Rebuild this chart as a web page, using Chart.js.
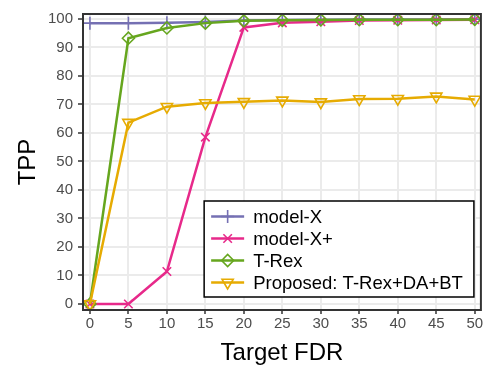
<!DOCTYPE html>
<html>
<head>
<meta charset="utf-8">
<script src="https://cdn.jsdelivr.net/npm/chart.js@4/dist/chart.umd.min.js"></script>
<style>
  html, body { margin: 0; padding: 0; background: #ffffff; }
  canvas { display: block; }
</style>
</head>
<body>
<canvas id="tpp" width="489" height="369"></canvas>
<script>
// Target FDR levels (%) on the x axis
const targetFDR = [0, 5, 10, 15, 20, 25, 30, 35, 40, 45, 50];
const xTicks = [0, 5, 10, 15, 20, 25, 30, 35, 40, 45, 50];
const yTicks = [0, 10, 20, 30, 40, 50, 60, 70, 80, 90, 100];

// True positive proportion (%) per method
const modelX    = [98.5, 98.5, 98.6, 98.9, 99.4, 99.6, 99.7, 99.8, 99.8, 99.8, 99.9];
const modelXPlus = [0, 0, 11.4, 58.5, 97.0, 98.6, 99.0, 99.4, 99.5, 99.6, 99.7];
const tRex      = [0, 93.2, 96.8, 98.5, 99.3, 99.5, 99.6, 99.7, 99.7, 99.7, 99.8];
const proposed  = [0, 63.6, 69.2, 70.5, 70.9, 71.4, 70.8, 71.9, 72.0, 72.8, 71.7];

const seriesNames = ['model-X', 'model-X+', 'T-Rex', 'Proposed: T-Rex+DA+BT'];

const FONT = "'Liberation Sans', Arial, Helvetica, sans-serif";

function series(label, values, color, style, radius, rotation, order) {
  return {
    label,
    data: values.map((v, i) => ({ x: targetFDR[i], y: v })),
    borderColor: color,
    backgroundColor: 'rgba(0,0,0,0)',
    borderWidth: 2.5,
    pointStyle: style,
    pointRadius: radius,
    pointRotation: rotation,
    pointBorderColor: color,
    pointBackgroundColor: 'rgba(0,0,0,0)',
    pointBorderWidth: 1.6,
    tension: 0,
    order
  };
}

// Legend box drawn inside the plot panel, bottom-right
const panelLegend = {
  id: 'panelLegend',
  afterDraw(chart) {
    const ctx = chart.ctx;
    const area = chart.chartArea;
    const ds = chart.data.datasets;
    ctx.save();
    ctx.font = '18.5px ' + FONT;
    let maxW = 0;
    ds.forEach(d => { maxW = Math.max(maxW, ctx.measureText(d.label).width); });
    const rowH = 22;
    const sampleW = 33;
    const padL = 7, gap = 9, padR = 11, padV = 4;
    const boxW = padL + sampleW + gap + maxW + padR;
    const boxH = padV * 2 + rowH * ds.length;
    const right = area.right - 7;
    const bottom = area.bottom - 13;
    const left = right - boxW;
    const top = bottom - boxH;
    ctx.fillStyle = '#ffffff';
    ctx.fillRect(left, top, boxW, boxH);
    ctx.strokeStyle = '#000000';
    ctx.lineWidth = 1.5;
    ctx.strokeRect(left, top, boxW, boxH);
    ds.forEach((d, i) => {
      const cy = top + padV + rowH * i + rowH / 2 + 0.5;
      const x0 = left + padL;
      ctx.strokeStyle = d.borderColor;
      ctx.lineWidth = d.borderWidth;
      ctx.beginPath();
      ctx.moveTo(x0, cy);
      ctx.lineTo(x0 + sampleW, cy);
      ctx.stroke();
      ctx.strokeStyle = d.pointBorderColor;
      ctx.fillStyle = 'rgba(0,0,0,0)';
      ctx.lineWidth = d.pointBorderWidth;
      Chart.helpers.drawPoint(ctx, {
        pointStyle: d.pointStyle,
        radius: d.pointRadius,
        rotation: d.pointRotation,
        borderWidth: d.pointBorderWidth
      }, x0 + sampleW / 2, cy);
      ctx.fillStyle = '#000000';
      ctx.textBaseline = 'middle';
      ctx.textAlign = 'left';
      ctx.fillText(d.label, x0 + sampleW + gap, cy + 1);
    });
    ctx.restore();
  }
};

// Panel frame on all four sides
const panelFrame = {
  id: 'panelFrame',
  afterDatasetsDraw(chart) {
    const { ctx, chartArea: a } = chart;
    ctx.save();
    ctx.strokeStyle = '#333333';
    ctx.lineWidth = 2;
    ctx.strokeRect(a.left, a.top, a.right - a.left, a.bottom - a.top);
    ctx.restore();
  }
};

new Chart(document.getElementById('tpp'), {
  type: 'line',
  data: {
    datasets: [
      series(seriesNames[0], modelX, '#7570b3', 'cross', 6.5, 0, 4),
      series(seriesNames[1], modelXPlus, '#e7298a', 'crossRot', 6, 0, 3),
      series(seriesNames[2], tRex, '#66a61e', 'rectRot', 6, 0, 2),
      series(seriesNames[3], proposed, '#e6ab02', 'triangle', 6.5, 180, 1)
    ]
  },
  options: {
    responsive: false,
    animation: false,
    layout: { padding: { top: 10, right: 6, left: 0, bottom: 0 } },
    plugins: {
      legend: { display: false },
      tooltip: { enabled: false }
    },
    scales: {
      x: {
        type: 'linear',
        min: -0.9,
        max: 50.8,
        afterBuildTicks: s => { s.ticks = xTicks.map(v => ({ value: v })); },
        afterFit: s => { s.height = 59; },
        grid: { color: '#ebebeb', lineWidth: 2, tickColor: '#333333', tickLength: 4, tickWidth: 1.5 },
        border: { display: false },
        ticks: { color: '#4d4d4d', font: { family: FONT, size: 15 }, padding: 1, maxRotation: 0 },
        title: { display: true, text: 'Target FDR', color: '#000000', font: { family: FONT, size: 24 }, padding: { top: 0, bottom: 1 } }
      },
      y: {
        type: 'linear',
        min: -2.1,
        max: 101.7,
        afterBuildTicks: s => { s.ticks = yTicks.map(v => ({ value: v })); },
        afterFit: s => { s.width = 83; },
        grid: { color: '#ebebeb', lineWidth: 2, tickColor: '#333333', tickLength: 5, tickWidth: 1.5 },
        border: { display: false },
        ticks: { color: '#4d4d4d', font: { family: FONT, size: 15 }, padding: 5 },
        title: { display: true, text: 'TPP', color: '#000000', font: { family: FONT, size: 24 }, padding: { top: 14, bottom: 0 } }
      }
    }
  },
  plugins: [panelFrame, panelLegend]
});
</script>
</body>
</html>
